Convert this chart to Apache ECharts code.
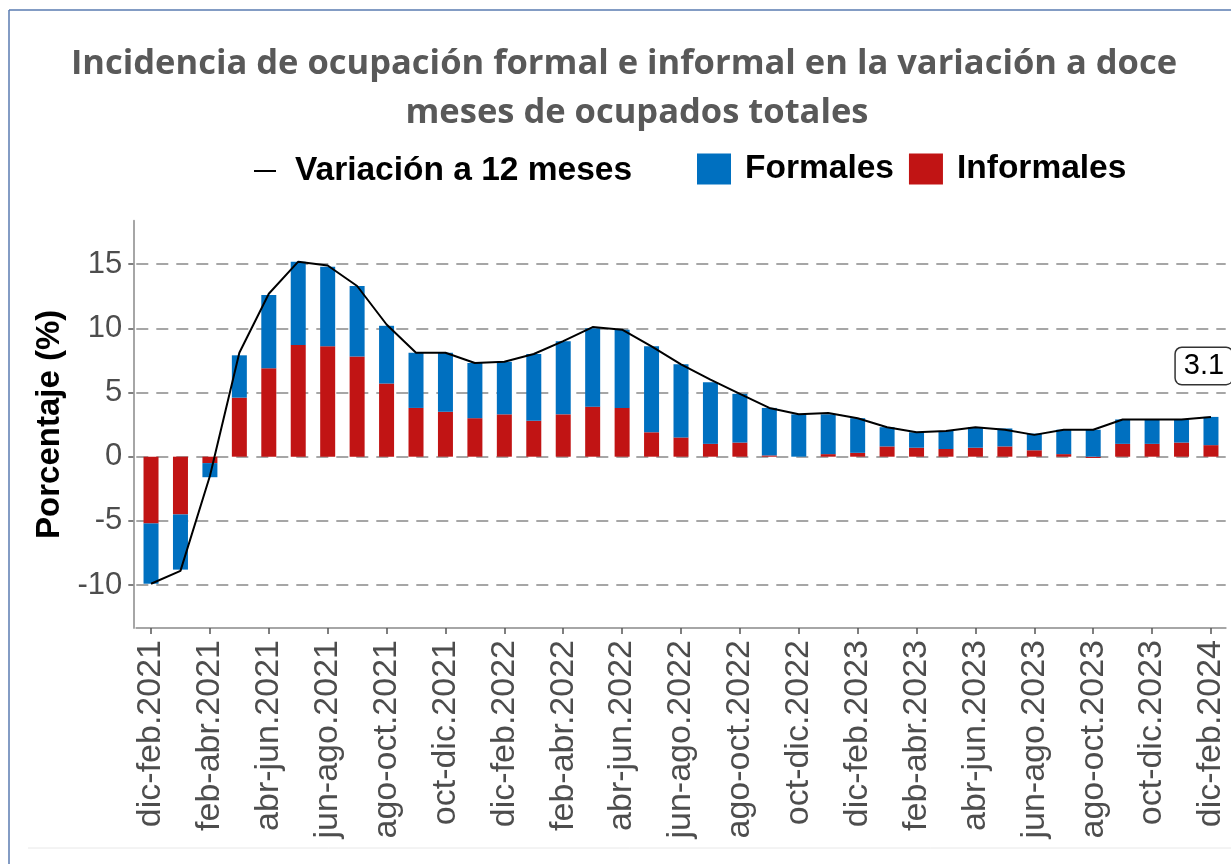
<!DOCTYPE html>
<html lang="es">
<head>
<meta charset="utf-8">
<title>Incidencia de ocupación formal e informal</title>
<script src="https://cdn.jsdelivr.net/npm/echarts@6/dist/echarts.min.js"></script>
<style>
  html, body { margin: 0; padding: 0; background: #fff; }
  #chart { width: 1231px; height: 864px; }
</style>
</head>
<body>
<div id="chart"></div>
<script>
// Trimestres móviles (dic-feb.2021 ... dic-feb.2024)
const periodos = [
  'dic-feb.2021', 'ene-mar.2021', 'feb-abr.2021', 'mar-may.2021', 'abr-jun.2021',
  'may-jul.2021', 'jun-ago.2021', 'jul-sep.2021', 'ago-oct.2021', 'sep-nov.2021',
  'oct-dic.2021', 'nov-ene.2022', 'dic-feb.2022', 'ene-mar.2022', 'feb-abr.2022',
  'mar-may.2022', 'abr-jun.2022', 'may-jul.2022', 'jun-ago.2022', 'jul-sep.2022',
  'ago-oct.2022', 'sep-nov.2022', 'oct-dic.2022', 'nov-ene.2023', 'dic-feb.2023',
  'ene-mar.2023', 'feb-abr.2023', 'mar-may.2023', 'abr-jun.2023', 'may-jul.2023',
  'jun-ago.2023', 'jul-sep.2023', 'ago-oct.2023', 'sep-nov.2023', 'oct-dic.2023',
  'nov-ene.2024', 'dic-feb.2024'
];

const formales = [
  -4.7, -4.3, -1.1, 3.3, 5.7, 6.5, 6.2, 5.5, 4.5, 4.3,
  4.6, 4.3, 4.1, 5.2, 5.7, 6.1, 6.1, 6.7, 5.7, 4.8,
  3.8, 3.7, 3.3, 3.1, 2.7, 1.5, 1.2, 1.4, 1.6, 1.4,
  1.3, 1.9, 2.1, 1.9, 1.9, 1.8, 2.2
];

const informales = [
  -5.2, -4.5, -0.5, 4.6, 6.9, 8.7, 8.6, 7.8, 5.7, 3.8,
  3.5, 3.0, 3.3, 2.8, 3.3, 3.9, 3.8, 1.9, 1.5, 1.0,
  1.1, 0.1, 0.0, 0.2, 0.3, 0.8, 0.7, 0.6, 0.7, 0.8,
  0.5, 0.2, -0.1, 1.0, 1.0, 1.1, 0.9
];

const variacion12m = [
  -9.9, -8.9, -1.5, 8.1, 12.7, 15.2, 14.9, 13.3, 10.3, 8.1,
  8.1, 7.3, 7.4, 8.0, 9.0, 10.1, 9.9, 8.6, 7.2, 6.0,
  4.9, 3.8, 3.3, 3.4, 3.0, 2.3, 1.9, 2.0, 2.3, 2.1,
  1.7, 2.1, 2.1, 2.9, 2.9, 2.9, 3.1
];

const yTicks = [-10, -5, 0, 5, 10, 15];

const chartInit = () => {
  const $chart = document.getElementById('chart');
  const chart = echarts.init($chart, null, { renderer: 'canvas' });

  const gris = '#4d4d4d';
  const ultimo = variacion12m.length - 1;

  const options = {
    animation: false,
    backgroundColor: '#fff',
    title: [
      {
        text: 'Incidencia de ocupación formal e informal en la variación a doce',
        left: 624, top: 47, textAlign: 'center', padding: 0,
        textStyle: { fontFamily: 'Open Sans', fontWeight: 'bold', fontSize: 34.5, color: '#595959' }
      },
      {
        text: 'meses de ocupados totales',
        left: 637, top: 96, textAlign: 'center', padding: 0,
        textStyle: { fontFamily: 'Open Sans', fontWeight: 'bold', fontSize: 34.5, color: '#595959' }
      }
    ],
    legend: [
      {
        data: ['Variación a 12 meses'],
        left: 254, top: 154, padding: 0,
        selectedMode: false,
        icon: 'rect', itemWidth: 22, itemHeight: 2,
        textStyle: { fontFamily: 'Liberation Sans', fontWeight: 'bold', fontSize: 33.5, color: '#000', padding: [0, 0, 0, 14] }
      },
      {
        data: ['Formales', 'Informales'],
        left: 697, top: 152, padding: 0,
        selectedMode: false,
        icon: 'rect', itemWidth: 34, itemHeight: 31, itemGap: 15,
        textStyle: { fontFamily: 'Liberation Sans', fontWeight: 'bold', fontSize: 33.5, color: '#000', padding: [0, 0, 0, 9] }
      }
    ],
    grid: { left: 136.3, width: 1089.4, top: 220.7, bottom: 236, containLabel: false },
    xAxis: {
      type: 'category',
      data: periodos,
      boundaryGap: true,
      axisLine: { show: true, onZero: false, lineStyle: { color: '#a6a6a6', width: 2 } },
      axisTick: { show: true, interval: 1, alignWithLabel: true, length: 6, lineStyle: { color: '#555', width: 1.5 } },
      axisLabel: {
        interval: 1, rotate: 90, margin: 12,
        fontFamily: 'Liberation Sans', fontSize: 34, color: gris
      },
      splitLine: { show: false }
    },
    yAxis: {
      type: 'value',
      min: -13.35,
      max: 18.39,
      splitNumber: 6,
      offset: 3,
      name: 'Porcentaje (%)',
      nameLocation: 'middle',
      nameGap: 66,
      nameRotate: 90,
      nameTextStyle: { fontFamily: 'Liberation Sans', fontWeight: 'bold', fontSize: 33, color: '#000' },
      axisLine: { show: true, lineStyle: { color: '#a6a6a6', width: 2 } },
      axisTick: { show: true, length: 5, customValues: yTicks, lineStyle: { color: '#555', width: 1.5 } },
      axisLabel: {
        customValues: yTicks,
        margin: 11, fontFamily: 'Liberation Sans', fontSize: 31, color: gris
      },
      splitLine: {
        show: true,
        lineStyle: { color: '#a6a6a6', width: 2, type: [12, 8] }
      }
    },
    series: [
      {
        name: 'Informales',
        type: 'bar',
        stack: 'incidencia',
        data: informales,
        barWidth: 15,
        itemStyle: { color: '#C11414' }
      },
      {
        name: 'Formales',
        type: 'bar',
        stack: 'incidencia',
        data: formales,
        barWidth: 15,
        itemStyle: { color: '#0070C0' }
      },
      {
        name: 'Variación a 12 meses',
        type: 'line',
        data: variacion12m.map((v, i) => (i === ultimo
          ? {
              value: v,
              label: {
                show: true, position: 'top', distance: 33, offset: [-7, 0],
                formatter: '{c}',
                fontFamily: 'Liberation Sans', fontSize: 29, lineHeight: 30, color: '#000',
                backgroundColor: '#fff', borderColor: '#333', borderWidth: 1.5, borderRadius: 6,
                padding: [3, 8]
              }
            }
          : v)),
        showSymbol: true,
        symbol: 'circle',
        symbolSize: 0,
        itemStyle: { color: '#000' },
        lineStyle: { color: '#000', width: 2 },
        z: 5
      }
    ],
    graphic: [
      { type: 'line', shape: { x1: 9, y1: 10, x2: 1231, y2: 10 }, style: { stroke: '#5a7bb0', lineWidth: 1.5 } },
      { type: 'line', shape: { x1: 9, y1: 10, x2: 9, y2: 864 }, style: { stroke: '#5a7bb0', lineWidth: 1.5 } },
      { type: 'line', shape: { x1: 28, y1: 848, x2: 1231, y2: 848 }, style: { stroke: '#e8e8e8', lineWidth: 1 } }
    ]
  };

  chart.setOption(options);

  window.addEventListener('resize', () => {
    chart.resize();
  });
};

document.addEventListener('DOMContentLoaded', chartInit);
</script>
</body>
</html>
